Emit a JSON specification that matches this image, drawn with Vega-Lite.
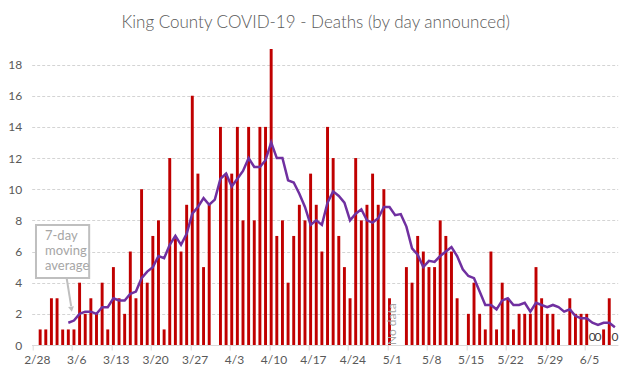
{
  "$schema": "https://vega.github.io/schema/vega-lite/v6.json",
  "width": 586,
  "height": 296,
  "autosize": {"type": "none"},
  "padding": {"left": 31.7, "top": 49, "right": 15.3, "bottom": 33},
  "background": "white",
  "title": {
    "text": "King County COVID-19 - Deaths (by day announced)",
    "font": "Lato",
    "fontSize": 17,
    "fontWeight": 300,
    "color": "#595959",
    "anchor": "middle",
    "dx": -9,
    "offset": 17
  },
  "config": {
    "view": {"stroke": null},
    "axis": {"labelFont": "Lato", "labelFontSize": 12, "labelColor": "#595959", "title": null},
    "axisY": {"domain": false, "ticks": false, "labelPadding": 10, "labelOverlap": false, "grid": true, "gridColor": "#d4d4d4", "gridDash": [3, 2]}
  },
  "datasets": {
    "deaths": [
      {"date": "2/28", "deaths": 0, "avg": null},
      {"date": "2/29", "deaths": 1, "avg": null},
      {"date": "3/1", "deaths": 1, "avg": null},
      {"date": "3/2", "deaths": 3, "avg": null},
      {"date": "3/3", "deaths": 3, "avg": null},
      {"date": "3/4", "deaths": 1, "avg": null},
      {"date": "3/5", "deaths": 1, "avg": 1.43},
      {"date": "3/6", "deaths": 1, "avg": 1.57},
      {"date": "3/7", "deaths": 4, "avg": 2.0},
      {"date": "3/8", "deaths": 2, "avg": 2.14},
      {"date": "3/9", "deaths": 3, "avg": 2.14},
      {"date": "3/10", "deaths": 2, "avg": 2.0},
      {"date": "3/11", "deaths": 4, "avg": 2.43},
      {"date": "3/12", "deaths": 1, "avg": 2.43},
      {"date": "3/13", "deaths": 5, "avg": 3.0},
      {"date": "3/14", "deaths": 3, "avg": 2.86},
      {"date": "3/15", "deaths": 2, "avg": 2.86},
      {"date": "3/16", "deaths": 6, "avg": 3.29},
      {"date": "3/17", "deaths": 3, "avg": 3.43},
      {"date": "3/18", "deaths": 10, "avg": 4.29},
      {"date": "3/19", "deaths": 4, "avg": 4.71},
      {"date": "3/20", "deaths": 7, "avg": 5.0},
      {"date": "3/21", "deaths": 8, "avg": 5.71},
      {"date": "3/22", "deaths": 1, "avg": 5.57},
      {"date": "3/23", "deaths": 12, "avg": 6.43},
      {"date": "3/24", "deaths": 7, "avg": 7.0},
      {"date": "3/25", "deaths": 6, "avg": 6.43},
      {"date": "3/26", "deaths": 9, "avg": 7.14},
      {"date": "3/27", "deaths": 16, "avg": 8.43},
      {"date": "3/28", "deaths": 11, "avg": 8.86},
      {"date": "3/29", "deaths": 5, "avg": 9.43},
      {"date": "3/30", "deaths": 9, "avg": 9.0},
      {"date": "3/31", "deaths": null, "avg": 9.33},
      {"date": "4/1", "deaths": 14, "avg": 10.67},
      {"date": "4/2", "deaths": 11, "avg": 11.0},
      {"date": "4/3", "deaths": 11, "avg": 10.17},
      {"date": "4/4", "deaths": 14, "avg": 10.67},
      {"date": "4/5", "deaths": 8, "avg": 11.17},
      {"date": "4/6", "deaths": 14, "avg": 12.0},
      {"date": "4/7", "deaths": 8, "avg": 11.43},
      {"date": "4/8", "deaths": 14, "avg": 11.43},
      {"date": "4/9", "deaths": 14, "avg": 11.86},
      {"date": "4/10", "deaths": 19, "avg": 13.0},
      {"date": "4/11", "deaths": 7, "avg": 12.0},
      {"date": "4/12", "deaths": 8, "avg": 12.0},
      {"date": "4/13", "deaths": 4, "avg": 10.57},
      {"date": "4/14", "deaths": 7, "avg": 10.43},
      {"date": "4/15", "deaths": 9, "avg": 9.71},
      {"date": "4/16", "deaths": 8, "avg": 8.86},
      {"date": "4/17", "deaths": 11, "avg": 7.71},
      {"date": "4/18", "deaths": 9, "avg": 8.0},
      {"date": "4/19", "deaths": 6, "avg": 7.71},
      {"date": "4/20", "deaths": 14, "avg": 9.14},
      {"date": "4/21", "deaths": 12, "avg": 9.86},
      {"date": "4/22", "deaths": 7, "avg": 9.57},
      {"date": "4/23", "deaths": 5, "avg": 9.14},
      {"date": "4/24", "deaths": 3, "avg": 8.0},
      {"date": "4/25", "deaths": 12, "avg": 8.43},
      {"date": "4/26", "deaths": 8, "avg": 8.71},
      {"date": "4/27", "deaths": 9, "avg": 8.0},
      {"date": "4/28", "deaths": 11, "avg": 7.86},
      {"date": "4/29", "deaths": 9, "avg": 8.14},
      {"date": "4/30", "deaths": 10, "avg": 8.86},
      {"date": "5/1", "deaths": 3, "avg": 8.86},
      {"date": "5/2", "deaths": null, "avg": 8.33, "note": "No data"},
      {"date": "5/3", "deaths": null, "avg": 8.4},
      {"date": "5/4", "deaths": 5, "avg": 7.6},
      {"date": "5/5", "deaths": 4, "avg": 6.2},
      {"date": "5/6", "deaths": 7, "avg": 5.8},
      {"date": "5/7", "deaths": 6, "avg": 5.0},
      {"date": "5/8", "deaths": 5, "avg": 5.4},
      {"date": "5/9", "deaths": 5, "avg": 5.33},
      {"date": "5/10", "deaths": 8, "avg": 5.71},
      {"date": "5/11", "deaths": 7, "avg": 6.0},
      {"date": "5/12", "deaths": 6, "avg": 6.29},
      {"date": "5/13", "deaths": 3, "avg": 5.71},
      {"date": "5/14", "deaths": 0, "avg": 4.86},
      {"date": "5/15", "deaths": 2, "avg": 4.43},
      {"date": "5/16", "deaths": 4, "avg": 4.29},
      {"date": "5/17", "deaths": 2, "avg": 3.43},
      {"date": "5/18", "deaths": 1, "avg": 2.57},
      {"date": "5/19", "deaths": 6, "avg": 2.57},
      {"date": "5/20", "deaths": 1, "avg": 2.29},
      {"date": "5/21", "deaths": 4, "avg": 2.86},
      {"date": "5/22", "deaths": 3, "avg": 3.0},
      {"date": "5/23", "deaths": 1, "avg": 2.57},
      {"date": "5/24", "deaths": 2, "avg": 2.57},
      {"date": "5/25", "deaths": 2, "avg": 2.71},
      {"date": "5/26", "deaths": 2, "avg": 2.14},
      {"date": "5/27", "deaths": 5, "avg": 2.71},
      {"date": "5/28", "deaths": 3, "avg": 2.57},
      {"date": "5/29", "deaths": 2, "avg": 2.43},
      {"date": "5/30", "deaths": 2, "avg": 2.57},
      {"date": "5/31", "deaths": 1, "avg": 2.43},
      {"date": "6/1", "deaths": 0, "avg": 2.14},
      {"date": "6/2", "deaths": 3, "avg": 2.29},
      {"date": "6/3", "deaths": 2, "avg": 1.86},
      {"date": "6/4", "deaths": 2, "avg": 1.71},
      {"date": "6/5", "deaths": 2, "avg": 1.71},
      {"date": "6/6", "deaths": 0, "avg": 1.43, "lbl": "0"},
      {"date": "6/7", "deaths": 0, "avg": 1.29, "lbl": "0"},
      {"date": "6/8", "deaths": 1, "avg": 1.43},
      {"date": "6/9", "deaths": 3, "avg": 1.43},
      {"date": "6/10", "deaths": 0, "avg": 1.14, "lbl": "0"}
    ],
    "box": [{"x1": 0.76, "x2": 10.2, "y1": 4.3, "y2": 7.7}],
    "notetext": [
      {"t": "7-day", "x": 2.36, "y": 6.98},
      {"t": "moving", "x": 2.36, "y": 6.02},
      {"t": "average", "x": 2.36, "y": 5.06}
    ],
    "arrow": [{"x1": 6.2, "y1": 4.3, "x2": 7.0, "y2": 2.5}],
    "arrowhead": [{"x": 7.05, "y": 2.3}]
  },
  "resolve": {"scale": {"x": "independent"}},
  "layer": [
    {
      "data": {"name": "deaths"},
      "layer": [
        {
          "mark": {"type": "bar", "color": "#C00000"},
          "encoding": {
            "x": {
              "field": "date",
              "type": "ordinal",
              "scale": {
                "domain": ["2/28","2/29","3/1","3/2","3/3","3/4","3/5","3/6","3/7","3/8","3/9","3/10","3/11","3/12","3/13","3/14","3/15","3/16","3/17","3/18","3/19","3/20","3/21","3/22","3/23","3/24","3/25","3/26","3/27","3/28","3/29","3/30","3/31","4/1","4/2","4/3","4/4","4/5","4/6","4/7","4/8","4/9","4/10","4/11","4/12","4/13","4/14","4/15","4/16","4/17","4/18","4/19","4/20","4/21","4/22","4/23","4/24","4/25","4/26","4/27","4/28","4/29","4/30","5/1","5/2","5/3","5/4","5/5","5/6","5/7","5/8","5/9","5/10","5/11","5/12","5/13","5/14","5/15","5/16","5/17","5/18","5/19","5/20","5/21","5/22","5/23","5/24","5/25","5/26","5/27","5/28","5/29","5/30","5/31","6/1","6/2","6/3","6/4","6/5","6/6","6/7","6/8","6/9","6/10"],
                "paddingInner": 0.48,
                "paddingOuter": 0.24
              },
              "axis": {
                "values": ["2/28","3/6","3/13","3/20","3/27","4/3","4/10","4/17","4/24","5/1","5/8","5/15","5/22","5/29","6/5"],
                "bandPosition": 0,
                "labelOffset": 2.8,
                "labelAngle": 0,
                "labelAlign": "center",
                "labelFlush": false,
                "labelBound": false,
                "tickSize": 5,
                "tickColor": "#d9d9d9",
                "domainColor": "#d9d9d9",
                "labelPadding": 4,
                "labelOverlap": false,
                "grid": false
              }
            },
            "y": {
              "field": "deaths",
              "type": "quantitative",
              "scale": {"domain": [0, 19], "nice": false},
              "axis": {"values": [0, 2, 4, 6, 8, 10, 12, 14, 16, 18]}
            }
          }
        },
        {
          "mark": {"type": "line", "color": "#7030A0", "strokeWidth": 2.5},
          "encoding": {
            "x": {"field": "date", "type": "ordinal"},
            "y": {"field": "avg", "type": "quantitative", "axis": {"values": [0, 2, 4, 6, 8, 10, 12, 14, 16, 18]}}
          }
        },
        {
          "transform": [{"filter": "datum.lbl != null"}],
          "mark": {"type": "text", "font": "Lato", "fontSize": 12, "color": "#404040", "baseline": "bottom", "dy": -1},
          "encoding": {
            "x": {"field": "date", "type": "ordinal"},
            "y": {"datum": 0, "type": "quantitative", "axis": {"values": [0, 2, 4, 6, 8, 10, 12, 14, 16, 18]}},
            "text": {"field": "lbl"}
          }
        },
        {
          "transform": [{"filter": "datum.note != null"}],
          "mark": {"type": "text", "font": "Lato", "fontSize": 12, "color": "#a6a6a6", "angle": 270, "align": "left", "baseline": "middle", "dy": -3},
          "encoding": {
            "x": {"field": "date", "type": "ordinal"},
            "y": {"datum": 0, "type": "quantitative", "axis": {"values": [0, 2, 4, 6, 8, 10, 12, 14, 16, 18]}},
            "text": {"field": "note"}
          }
        }
      ]
    },
    {
      "layer": [
        {
          "data": {"name": "box"},
          "mark": {"type": "rect", "fill": "white", "stroke": "#bfbfbf", "strokeWidth": 2},
          "encoding": {
            "x": {"field": "x1", "type": "quantitative", "scale": {"domain": [0, 104], "nice": false, "zero": false}, "axis": null},
            "x2": {"field": "x2"},
            "y": {"field": "y1", "type": "quantitative", "axis": {"values": [0, 2, 4, 6, 8, 10, 12, 14, 16, 18]}},
            "y2": {"field": "y2"}
          }
        },
        {
          "data": {"name": "notetext"},
          "mark": {"type": "text", "font": "Lato", "fontSize": 13, "color": "#a6a6a6", "align": "left", "baseline": "middle"},
          "encoding": {
            "x": {"field": "x", "type": "quantitative"},
            "y": {"field": "y", "type": "quantitative", "axis": {"values": [0, 2, 4, 6, 8, 10, 12, 14, 16, 18]}},
            "text": {"field": "t"}
          }
        },
        {
          "data": {"name": "arrow"},
          "mark": {"type": "rule", "color": "#bfbfbf", "strokeWidth": 2},
          "encoding": {
            "x": {"field": "x1", "type": "quantitative"},
            "x2": {"field": "x2"},
            "y": {"field": "y1", "type": "quantitative", "axis": {"values": [0, 2, 4, 6, 8, 10, 12, 14, 16, 18]}},
            "y2": {"field": "y2"}
          }
        },
        {
          "data": {"name": "arrowhead"},
          "mark": {"type": "point", "shape": "triangle-down", "filled": true, "color": "#bfbfbf", "size": 35, "angle": 351, "opacity": 1},
          "encoding": {
            "x": {"field": "x", "type": "quantitative"},
            "y": {"field": "y", "type": "quantitative", "axis": {"values": [0, 2, 4, 6, 8, 10, 12, 14, 16, 18]}}
          }
        }
      ]
    }
  ]
}
